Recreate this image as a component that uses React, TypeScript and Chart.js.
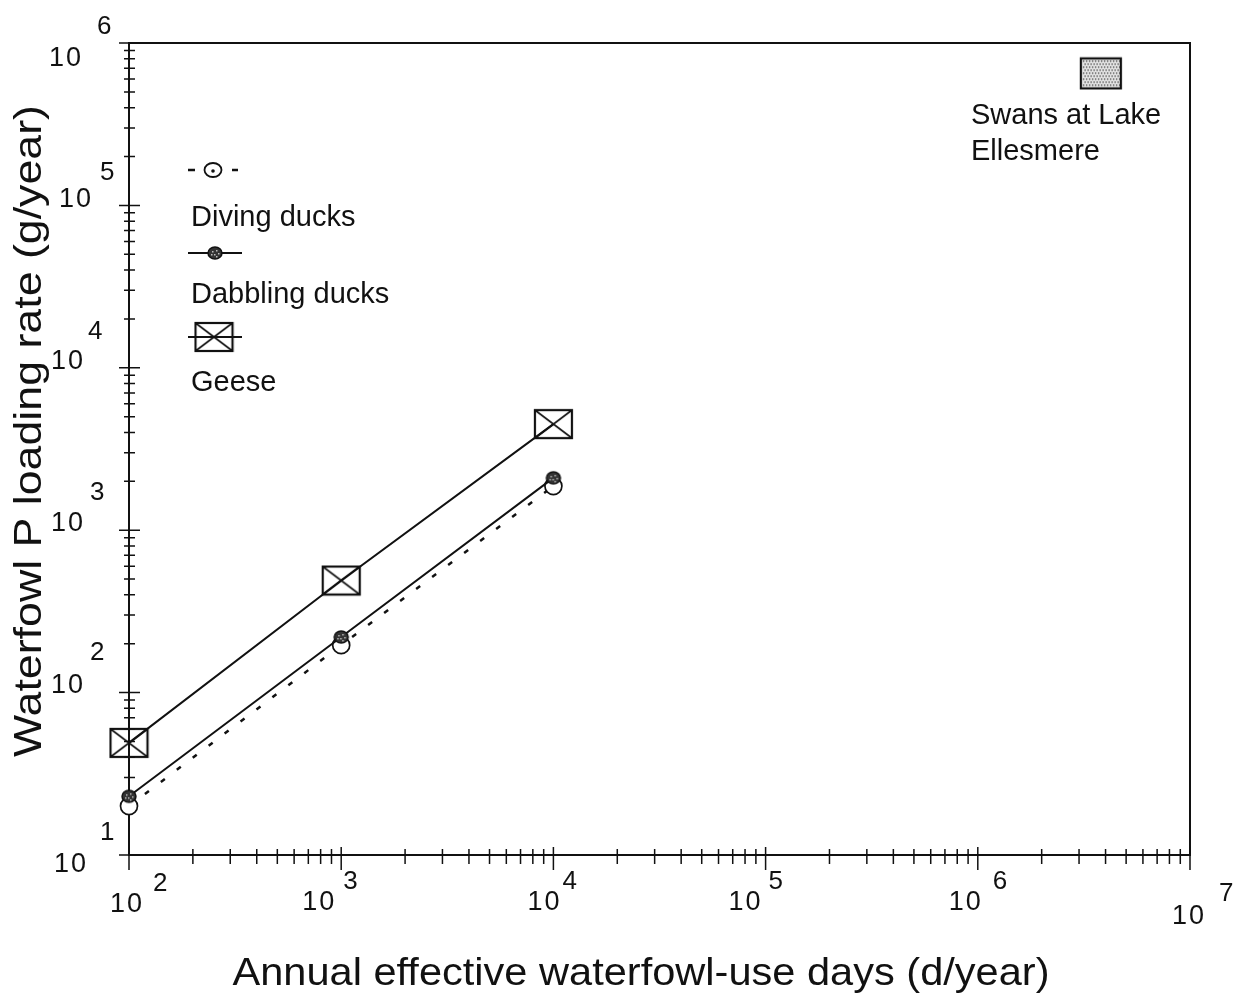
import React, { useEffect, useRef } from 'react';
import { Chart, registerables } from 'chart.js';

Chart.register(...registerables);

// ---- data ----
const useDays = [100, 1000, 10000];
const divingDucks = [20, 196, 1870];
const dabblingDucks = [23, 220, 2100];
const geese = [49, 490, 4500];
const swansDays = [3.8e6];
const swansLoad = [650000];
const seriesLabels = ['Diving ducks', 'Dabbling ducks', 'Geese'];
const swansLabel = ['Swans at Lake', 'Ellesmere'];
const xExponents = [2, 3, 4, 5, 6, 7];
const yExponents = [1, 2, 3, 4, 5, 6];
const xTitle = 'Annual effective waterfowl-use days (d/year)';
const yTitle = 'Waterfowl P loading rate (g/year)';

// ---- styling (label offsets relative to tick / axis) ----
// [tenRightDx, tenDy, expLeftDx, expDy]
const yLabelStyle = [
  [-41, 10, -29, -22],
  [-44, -7, -39, -40],
  [-44, -7, -39, -37],
  [-44, -6, -41, -36],
  [-36, -6, -29, -33],
  [-46, 16, -32, -16],
];
// [tenCenterDx, tenDyFromAxis, expLeftDx, expDyFromAxis]
const xLabelStyle = [
  [-2, 50, 24, 29],
  [-22, 48, 2, 27],
  [-9, 48, 9, 27],
  [-20, 48, 3, 27],
  [-12, 48, 15, 27],
  [-1, 62, 29, 39],
];

const FONT = '"Liberation Sans", Arial, Helvetica, sans-serif';
const INK = '#111';

function makeBoxX(w: number, h: number) {
  const c = document.createElement('canvas');
  c.width = w + 4;
  c.height = h + 4;
  const g = c.getContext('2d')!;
  g.strokeStyle = INK;
  g.lineWidth = 2.2;
  g.strokeRect(2, 2, w, h);
  g.lineWidth = 1.6;
  g.beginPath();
  g.moveTo(2, 2);
  g.lineTo(2 + w, 2 + h);
  g.moveTo(2 + w, 2);
  g.lineTo(2, 2 + h);
  g.stroke();
  return c;
}

function makeStipple(w: number, h: number) {
  const c = document.createElement('canvas');
  c.width = w + 4;
  c.height = h + 4;
  const g = c.getContext('2d')!;
  g.fillStyle = '#e8e8e8';
  g.fillRect(2, 2, w, h);
  g.fillStyle = '#444';
  let row = 0;
  for (let yy = 4; yy < h + 1; yy += 3, row++) {
    for (let xx = 4 + (row % 2 ? 1.5 : 0); xx < w + 1; xx += 3) {
      g.fillRect(xx, yy, 1.4, 1.4);
    }
  }
  g.strokeStyle = INK;
  g.lineWidth = 2.2;
  g.strokeRect(2, 2, w, h);
  return c;
}

function makeDabbling() {
  const c = document.createElement('canvas');
  c.width = 18;
  c.height = 16;
  const g = c.getContext('2d')!;
  g.beginPath();
  g.ellipse(9, 8, 7, 6, 0, 0, Math.PI * 2);
  g.fillStyle = '#333';
  g.fill();
  g.fillStyle = '#bbb';
  [[6, 6], [10, 5], [8, 9], [12, 8], [5, 9], [10, 11]].forEach(([x, y]) => g.fillRect(x, y, 1.5, 1.5));
  g.strokeStyle = INK;
  g.lineWidth = 1.5;
  g.stroke();
  return c;
}

function drawPow(ctx: CanvasRenderingContext2D, exp: number, tenX: number, tenY: number, align: CanvasTextAlign, expX: number, expY: number) {
  ctx.textBaseline = 'middle';
  ctx.font = `27px ${FONT}`;
  (ctx as any).letterSpacing = '2px';
  ctx.textAlign = align;
  ctx.fillText('10', tenX, tenY);
  (ctx as any).letterSpacing = '0px';
  ctx.font = `26px ${FONT}`;
  ctx.textAlign = 'left';
  ctx.fillText(String(exp), expX, expY);
}

export default function App() {
  const ref = useRef<HTMLCanvasElement>(null);

  useEffect(() => {
    const canvas = ref.current!;
    const box = makeBoxX(37, 28);
    const legendBox = makeBoxX(37, 28);
    const swanImg = makeStipple(40, 30);
    const dab = makeDabbling();

    const decor = {
      id: 'decor',
      beforeDatasetsDraw(chart: any) {
        const { ctx, chartArea: a, scales } = chart;
        ctx.save();
        ctx.strokeStyle = INK;
        ctx.lineWidth = 2;
        ctx.strokeRect(a.left, a.top, a.right - a.left, a.bottom - a.top);
        ctx.lineWidth = 1.5;
        ctx.beginPath();
        const yMinE = yExponents[0];
        const yMaxE = yExponents[yExponents.length - 1];
        for (let k = yMinE; k <= yMaxE; k++) {
          for (let m = 1; m <= 9; m++) {
            if (k === yMaxE && m > 1) break;
            const y = scales.y.getPixelForValue(m * Math.pow(10, k));
            const major = m === 1;
            ctx.moveTo(a.left - (major ? 10 : 5), y);
            ctx.lineTo(a.left + (major ? 11 : 6), y);
          }
        }
        const xMinE = xExponents[0];
        const xMaxE = xExponents[xExponents.length - 1];
        for (let k = xMinE; k <= xMaxE; k++) {
          for (let m = 1; m <= 9; m++) {
            if (k === xMaxE && m > 1) break;
            const x = scales.x.getPixelForValue(m * Math.pow(10, k));
            const major = m === 1;
            ctx.moveTo(x, a.bottom - (major ? 8 : 6));
            ctx.lineTo(x, a.bottom + (major ? 15 : 9));
          }
        }
        ctx.stroke();
        ctx.restore();
      },
      afterDraw(chart: any) {
        const { ctx, chartArea: a, scales } = chart;
        ctx.save();
        ctx.fillStyle = INK;
        yExponents.forEach((e, i) => {
          const y = scales.y.getPixelForValue(Math.pow(10, e));
          const s = yLabelStyle[i];
          drawPow(ctx, e, a.left + s[0], y + s[1], 'right', a.left + s[2], y + s[3]);
        });
        xExponents.forEach((e, i) => {
          const x = scales.x.getPixelForValue(Math.pow(10, e));
          const s = xLabelStyle[i];
          drawPow(ctx, e, x + s[0], a.bottom + s[1], 'center', x + s[2], a.bottom + s[3]);
        });
        // titles
        ctx.textBaseline = 'alphabetic';
        ctx.textAlign = 'center';
        ctx.font = `39px ${FONT}`;
        let w = ctx.measureText(xTitle).width;
        ctx.save();
        ctx.translate(641, 985);
        ctx.scale(817 / w, 1);
        ctx.fillText(xTitle, 0, 0);
        ctx.restore();
        w = ctx.measureText(yTitle).width;
        ctx.save();
        ctx.translate(41, 431);
        ctx.rotate(-Math.PI / 2);
        ctx.scale(652 / w, 1);
        ctx.fillText(yTitle, 0, 0);
        ctx.restore();

        // legend
        ctx.strokeStyle = INK;
        ctx.font = `29px ${FONT}`;
        ctx.textAlign = 'left';
        const lx = a.left + 60;
        let sy = 170;
        ctx.lineWidth = 2.5;
        ctx.beginPath();
        ctx.moveTo(lx - 1, sy); ctx.lineTo(lx + 6, sy);
        ctx.moveTo(lx + 43, sy); ctx.lineTo(lx + 49, sy);
        ctx.stroke();
        ctx.lineWidth = 1.8;
        ctx.beginPath();
        ctx.ellipse(lx + 24, sy, 8.5, 7, 0, 0, Math.PI * 2);
        ctx.stroke();
        ctx.beginPath();
        ctx.arc(lx + 24, sy + 1, 1.8, 0, Math.PI * 2);
        ctx.fill();
        ctx.fillText(seriesLabels[0], lx + 2, 226);
        sy = 253;
        ctx.lineWidth = 2;
        ctx.beginPath();
        ctx.moveTo(lx - 1, sy); ctx.lineTo(lx + 53, sy);
        ctx.stroke();
        ctx.drawImage(dab, lx + 26 - dab.width / 2, sy - dab.height / 2);
        ctx.fillText(seriesLabels[1], lx + 2, 303);
        sy = 337;
        ctx.beginPath();
        ctx.moveTo(lx - 1, sy); ctx.lineTo(lx + 53, sy);
        ctx.stroke();
        ctx.drawImage(legendBox, lx + 25 - legendBox.width / 2, sy - legendBox.height / 2);
        ctx.fillText(seriesLabels[2], lx + 2, 391);

        ctx.fillText(swansLabel[0], 971, 124);
        ctx.fillText(swansLabel[1], 971, 160);
        ctx.restore();
      },
    };

    const pts = (ys: number[]) => useDays.map((x, i) => ({ x, y: ys[i] }));

    const chart = new Chart(canvas, {
      type: 'scatter',
      data: {
        datasets: [
          {
            label: seriesLabels[0],
            data: pts(divingDucks),
            showLine: true,
            borderColor: INK,
            borderWidth: 2.5,
            borderDash: [5, 15],
            pointStyle: 'circle',
            pointRadius: 8.5,
            pointBackgroundColor: '#fff',
            pointBorderColor: INK,
            pointBorderWidth: 1.7,
            clip: false,
            order: 3,
          },
          {
            label: seriesLabels[1],
            data: pts(dabblingDucks),
            showLine: true,
            borderColor: INK,
            borderWidth: 2,
            pointStyle: dab as any,
            pointRadius: 6,
            clip: false,
            order: 2,
          },
          {
            label: seriesLabels[2],
            data: pts(geese),
            showLine: true,
            borderColor: INK,
            borderWidth: 2,
            pointStyle: box as any,
            pointRadius: 6,
            clip: false,
            order: 1,
          },
          {
            label: 'Swans at Lake Ellesmere',
            data: swansDays.map((x, i) => ({ x, y: swansLoad[i] })),
            showLine: false,
            pointStyle: swanImg as any,
            pointRadius: 6,
            clip: false,
            order: 0,
          },
        ] as any,
      },
      options: {
        responsive: false,
        animation: false,
        events: [],
        layout: { padding: { left: 129, right: 53, top: 43, bottom: 150 } },
        plugins: { legend: { display: false }, tooltip: { enabled: false } },
        scales: {
          x: { type: 'logarithmic', min: 1e2, max: 1e7, display: false },
          y: { type: 'logarithmic', min: 1e1, max: 1e6, display: false },
        },
      },
      plugins: [decor],
    });
    return () => chart.destroy();
  }, []);

  return (
    <div style={{ position: 'absolute', left: 0, top: 0, width: 1243, height: 1005, background: '#fff' }}>
      <canvas ref={ref} width={1243} height={1005} style={{ display: 'block' }} />
    </div>
  );
}
